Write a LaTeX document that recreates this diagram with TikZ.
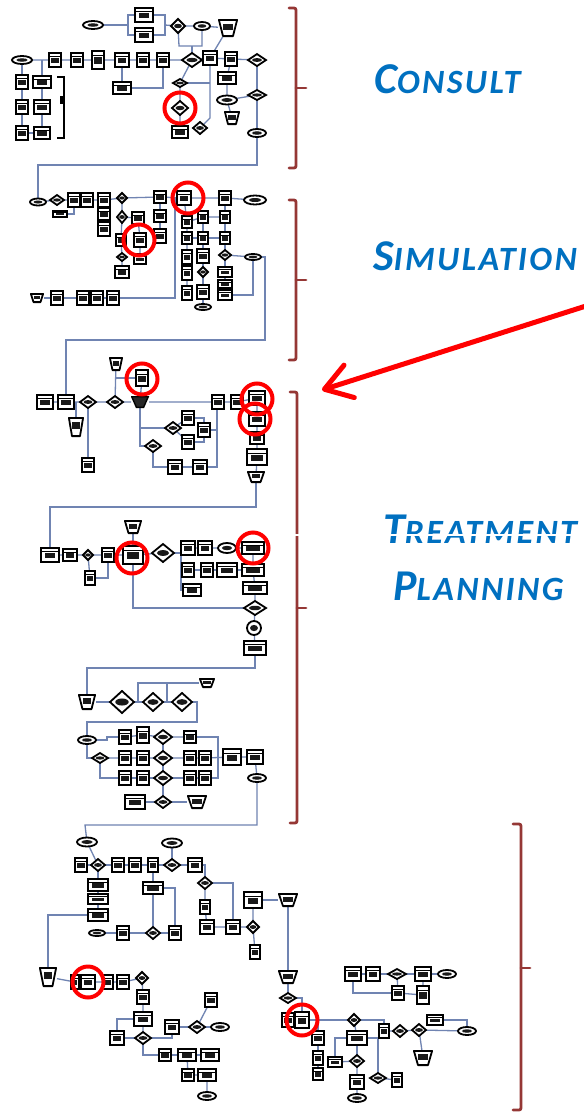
\documentclass[tikz,border=0pt]{standalone}
\usepackage{fontspec}
\setmainfont{Carlito}
\usetikzlibrary{shapes.geometric,arrows.meta,backgrounds}
\definecolor{lnc}{RGB}{112,132,178}
\definecolor{brk}{RGB}{149,55,53}
\definecolor{tblue}{RGB}{0,112,192}
\tikzset{
 ln/.style={draw=lnc, line width=1.3pt},
 bx/.style 2 args={rectangle, draw=black, line width=2.3pt, fill=white, inner sep=0pt, outer sep=0pt, minimum width=#1pt, minimum height=#2pt,
   path picture={\fill[black!90] ([xshift=-0.3*#1pt,yshift=-0.22*#2pt]path picture bounding box.center) rectangle ([xshift=0.3*#1pt,yshift=0.14*#2pt]path picture bounding box.center);
   \draw[black,line width=1pt] ([yshift=0.25*#2pt]path picture bounding box.west) -- ([yshift=0.25*#2pt]path picture bounding box.east);}},
 dm/.style 2 args={diamond, draw=black, line width=1.8pt, fill=white, inner sep=0pt, outer sep=0pt, minimum width=#1pt, minimum height=#2pt,
   path picture={\fill[black!90] (path picture bounding box.center) ellipse [x radius=0.28*#1pt, y radius=0.16*#2pt];}},
 ov/.style 2 args={ellipse, draw=black, line width=1.8pt, fill=white, inner sep=0pt, outer sep=0pt, minimum width=#1pt, minimum height=#2pt,
   path picture={\fill[black!90] (path picture bounding box.center) ellipse [x radius=0.28*#1pt, y radius=0.22*#2pt];}},
 tz/.style 2 args={rectangle, draw=none, inner sep=0pt, outer sep=0pt, minimum width=#1pt, minimum height=#2pt,
   path picture={\filldraw[fill=white, draw=black, line width=1.8pt, line join=round] ([xshift=0.9pt,yshift=-0.9pt]path picture bounding box.north west) -- ([xshift=-0.9pt,yshift=-0.9pt]path picture bounding box.north east) -- ([xshift=-0.25*#1pt,yshift=0.9pt]path picture bounding box.south east) -- ([xshift=0.25*#1pt,yshift=0.9pt]path picture bounding box.south west) -- cycle;
   \fill[black!90] ([xshift=-0.24*#1pt,yshift=-0.12*#2pt]path picture bounding box.center) rectangle ([xshift=0.24*#1pt,yshift=0.24*#2pt]path picture bounding box.center);}},
 tzd/.style 2 args={rectangle, draw=none, inner sep=0pt, outer sep=0pt, minimum width=#1pt, minimum height=#2pt,
   path picture={\filldraw[fill=black!85, draw=black, line width=1.4pt] ([xshift=0.7pt,yshift=-0.7pt]path picture bounding box.north west) -- ([xshift=-0.7pt,yshift=-0.7pt]path picture bounding box.north east) -- ([xshift=-0.3*#1pt,yshift=0.7pt]path picture bounding box.south east) -- ([xshift=0.3*#1pt,yshift=0.7pt]path picture bounding box.south west) -- cycle;}},
 rc/.style={circle, draw=red, line width=4pt, minimum size=31pt, inner sep=0pt},
 brkt/.style={draw=brk, line width=2.8pt, rounded corners=2pt, line cap=round},
 lab/.style={text=tblue, font=\bfseries\itshape\addfontfeature{LetterSpace=7}, inner sep=0pt, anchor=base west},
}
\begin{document}
\begin{tikzpicture}[x=1pt,y=-1pt]
\begin{scope}[on background layer]
\fill[white] (0,0) rectangle (584,1112);
\end{scope}
\useasboundingbox (0,0) rectangle (584,1112);

% ===== Section A (Consult) =====
\node[ov={20}{8}] (A1) at (93,25) {};
\node[bx={18}{14}] (A2) at (144,15) {};
\node[bx={18}{14}] (A3) at (144,35) {};
\node[dm={14}{14}] (A4) at (178,26) {};
\node[ov={16}{8}] (A5) at (202,26) {};
\node[tz={20}{18}] (A6) at (228,28) {};
\node[ov={20}{8}] (A7) at (22,60) {};
\node[bx={12}{14}] (A8) at (55,60) {};
\node[bx={12}{14}] (A9) at (77,60) {};
\node[bx={12}{18}] (A10) at (98,60) {};
\node[bx={14}{14}] (A11) at (122,60) {};
\node[bx={12}{14}] (A12) at (143,60) {};
\node[bx={12}{14}] (A13) at (163,60) {};
\node[dm={20}{14}] (A14) at (192,60) {};
\node[bx={14}{14}] (A15) at (210,58) {};
\node[bx={12}{14}] (A16) at (231,59) {};
\node[dm={18}{12}] (A17) at (257,60) {};
\node[bx={12}{14}] (A18) at (22,82) {};
\node[bx={12}{14}] (A19) at (22,107) {};
\node[bx={12}{14}] (A20) at (22,133) {};
\node[bx={18}{12}] (A21) at (42,82) {};
\node[bx={16}{14}] (A22) at (42,107) {};
\node[bx={16}{12}] (A23) at (42,133) {};
\node[bx={18}{12}] (A24) at (122,88) {};
\node[dm={14}{8}] (A25) at (180,83) {};
\node[dm={16}{14}] (A26) at (180,108) {};
\node[bx={16}{12}] (A27) at (180,132) {};
\node[dm={14}{12}] (A28) at (200,128) {};
\node[bx={18}{12}] (A29) at (227,78) {};
\node[ov={20}{9}] (A30) at (227,100) {};
\node[tz={16}{14}] (A31) at (232,118) {};
\node[dm={18}{10}] (A32) at (257,95) {};
\node[ov={18}{8}] (A33) at (257,133) {};
\coordinate (Aj1) at (128,25);
\coordinate (Aj2) at (165,25);
\coordinate (Aj3) at (179,46);
\coordinate (Aj4) at (202,46);
\coordinate (Aj5) at (210,118);
\coordinate (AB1) at (257,165);
\coordinate (AB2) at (38,165);

% ===== Section B (Simulation) =====
\node[ov={16}{7}] (B1) at (38,202) {};
\node[dm={14}{10}] (B2) at (57,200) {};
\node[bx={14}{6}] (B3) at (60,214) {};
\node[bx={12}{14}] (B4) at (74,200) {};
\node[bx={12}{14}] (B5) at (87,200) {};
\node[bx={12}{14}] (B6) at (104,200) {};
\node[bx={12}{12}] (B7) at (104,214) {};
\node[bx={12}{14}] (B8) at (104,229) {};
\node[dm={10}{10}] (B9) at (122,198) {};
\node[dm={10}{12}] (B10) at (122,217) {};
\node[bx={10}{12}] (B11) at (121,240) {};
\node[dm={10}{8}] (B12) at (122,257) {};
\node[bx={14}{12}] (B13) at (122,272) {};
\node[bx={12}{12}] (B14) at (138,218) {};
\node[bx={12}{14}] (B15) at (140,240) {};
\node[bx={12}{10}] (B16) at (140,259) {};
\node[bx={12}{12}] (B17) at (160,197) {};
\node[bx={12}{12}] (B18) at (160,216) {};
\node[bx={12}{14}] (B19) at (160,236) {};
\node[bx={14}{14}] (B20) at (184,198) {};
\node[bx={10}{12}] (B21) at (187,222) {};
\node[bx={10}{12}] (B22) at (187,238) {};
\node[bx={10}{14}] (B23) at (187,257) {};
\node[bx={10}{14}] (B24) at (187,273) {};
\node[bx={10}{14}] (B25) at (187,293) {};
\node[bx={10}{12}] (B26) at (203,217) {};
\node[bx={10}{12}] (B27) at (203,238) {};
\node[bx={12}{14}] (B28) at (203,256) {};
\node[dm={10}{10}] (B29) at (203,272) {};
\node[bx={12}{14}] (B30) at (203,292) {};
\node[ov={16}{6}] (B31) at (203,307) {};
\node[bx={12}{14}] (B32) at (225,198) {};
\node[bx={10}{12}] (B33) at (225,217) {};
\node[bx={10}{12}] (B34) at (225,238) {};
\node[dm={12}{10}] (B35) at (225,255) {};
\node[bx={14}{10}] (B36) at (225,272) {};
\node[bx={14}{8}] (B37) at (225,284) {};
\node[bx={14}{10}] (B38) at (225,295) {};
\node[ov={22}{9}] (B39) at (255,200) {};
\node[ov={16}{6}] (B40) at (253,257) {};
\node[tz={14}{10}] (B41) at (37,298) {};
\node[bx={12}{14}] (B42) at (57,298) {};
\node[bx={12}{14}] (B43) at (83,298) {};
\node[bx={12}{14}] (B44) at (97,298) {};
\node[bx={12}{14}] (B45) at (113,298) {};
\coordinate (Bj1) at (175,298);
\coordinate (BC1) at (265,257);
\coordinate (BC2) at (265,340);
\coordinate (BC3) at (66,340);

% ===== Section C =====
\node[bx={16}{14}] (C1) at (45,402) {};
\node[bx={16}{14}] (C2) at (66,402) {};
\node[dm={16}{12}] (C3) at (88,402) {};
\node[dm={16}{12}] (C4) at (115,402) {};
\node[tz={14}{14}] (C5) at (116,364) {};
\node[bx={12}{16}] (C6) at (142,378) {};
\node[tzd={18}{12}] (C7) at (140,402) {};
\node[tz={16}{20}] (C8) at (76,427) {};
\node[bx={12}{14}] (C9) at (88,465) {};
\node[bx={12}{14}] (C10) at (218,402) {};
\node[bx={12}{14}] (C11) at (237,402) {};
\node[bx={16}{14}] (C12) at (257,398) {};
\node[bx={16}{14}] (C13) at (257,419) {};
\node[bx={14}{12}] (C14) at (257,438) {};
\node[bx={20}{16}] (C15) at (257,457) {};
\node[tz={18}{12}] (C16) at (256,477) {};
\node[dm={16}{12}] (C17) at (153,446) {};
\node[dm={16}{12}] (C18) at (173,428) {};
\node[bx={12}{14}] (C19) at (188,418) {};
\node[bx={12}{14}] (C20) at (188,442) {};
\node[bx={12}{14}] (C21) at (204,430) {};
\node[bx={14}{14}] (C22) at (175,467) {};
\node[bx={14}{14}] (C23) at (200,467) {};
\coordinate (Cj2) at (217,467);
\coordinate (CD1) at (256,507);
\coordinate (CD2) at (50,507);

% ===== Section D =====
\node[bx={18}{14}] (D1) at (50,555) {};
\node[bx={14}{12}] (D2) at (70,555) {};
\node[dm={10}{10}] (D3) at (88,555) {};
\node[bx={12}{14}] (D4) at (108,555) {};
\node[bx={20}{18}] (D5) at (133,555) {};
\node[dm={22}{18}] (D6) at (163,553) {};
\node[tz={18}{14}] (D7) at (133,527) {};
\node[bx={10}{14}] (D8) at (90,578) {};
\node[bx={14}{14}] (D9) at (188,548) {};
\node[bx={14}{14}] (D10) at (205,548) {};
\node[ov={18}{10}] (D11) at (227,548) {};
\node[bx={22}{12}] (D12) at (253,548) {};
\node[bx={12}{14}] (D13) at (188,570) {};
\node[bx={12}{14}] (D14) at (207,570) {};
\node[bx={20}{14}] (D15) at (227,570) {};
\node[bx={22}{12}] (D16) at (253,570) {};
\node[bx={18}{12}] (D17) at (192,590) {};
\node[bx={24}{12}] (D18) at (255,588) {};
\node[dm={22}{14}] (D19) at (255,608) {};
\node[ov={14}{14}] (D20) at (254,628) {};
\node[bx={22}{14}] (D21) at (255,648) {};
\coordinate (Dj1) at (181,553);
\coordinate (DD1) at (255,668);
\coordinate (DD2) at (87,668);
\node[tz={18}{16}] (D22) at (87,702) {};
\node[dm={24}{22}] (D23) at (122,702) {};
\node[dm={20}{18}] (D24) at (153,702) {};
\node[dm={20}{18}] (D25) at (182,702) {};
\node[tz={16}{10}] (D26) at (207,683) {};
\coordinate (Dj2) at (138,683);
\coordinate (Dj3) at (167,683);
\coordinate (DD3) at (197,722);
\coordinate (DD4) at (87,722);
\node[ov={18}{8}] (D27) at (87,740) {};
\node[bx={12}{14}] (D28) at (125,737) {};
\node[bx={12}{16}] (D29) at (143,735) {};
\node[dm={18}{14}] (D30) at (163,737) {};
\node[bx={12}{12}] (D31) at (190,737) {};
\node[dm={16}{10}] (D32) at (100,758) {};
\node[bx={12}{14}] (D33) at (125,758) {};
\node[bx={12}{14}] (D34) at (143,758) {};
\node[dm={18}{14}] (D35) at (163,758) {};
\node[bx={12}{14}] (D36) at (190,758) {};
\node[bx={12}{14}] (D37) at (205,758) {};
\node[bx={18}{16}] (D38) at (232,757) {};
\node[bx={16}{14}] (D39) at (255,757) {};
\node[bx={12}{14}] (D40) at (125,778) {};
\node[bx={12}{14}] (D41) at (143,778) {};
\node[dm={18}{14}] (D42) at (163,778) {};
\node[bx={12}{14}] (D43) at (190,778) {};
\node[bx={12}{14}] (D44) at (205,778) {};
\node[ov={18}{8}] (D45) at (257,778) {};
\node[bx={20}{14}] (D46) at (135,802) {};
\node[dm={16}{12}] (D47) at (163,802) {};
\node[tz={20}{14}] (D48) at (197,802) {};
\coordinate (Dj4) at (107,740);
\coordinate (Dj5) at (218,737);
\coordinate (DE1) at (257,825);
\coordinate (DE2) at (85,825);

% ===== Section E =====
\node[ov={20}{9}] (E1) at (87,842) {};
\node[ov={20}{9}] (E2) at (172,843) {};
\node[bx={12}{14}] (E3) at (81,865) {};
\node[dm={14}{12}] (E4) at (98,865) {};
\node[bx={12}{14}] (E5) at (118,865) {};
\node[bx={12}{14}] (E6) at (135,865) {};
\node[bx={10}{14}] (E7) at (153,865) {};
\node[dm={16}{12}] (E8) at (172,865) {};
\node[bx={14}{14}] (E9) at (195,865) {};
\node[bx={20}{12}] (E10) at (98,885) {};
\node[bx={20}{10}] (E11) at (98,899) {};
\node[bx={20}{12}] (E12) at (98,915) {};
\node[bx={20}{12}] (E13) at (153,888) {};
\node[dm={14}{12}] (E14) at (153,933) {};
\node[bx={12}{14}] (E15) at (123,933) {};
\node[ov={16}{6}] (E16) at (97,933) {};
\node[bx={12}{14}] (E17) at (175,933) {};
\node[dm={14}{12}] (E18) at (205,883) {};
\node[bx={10}{14}] (E19) at (205,907) {};
\node[bx={14}{14}] (E20) at (207,927) {};
\node[bx={14}{14}] (E21) at (233,927) {};
\node[dm={12}{12}] (E22) at (253,927) {};
\node[bx={18}{16}] (E23) at (253,900) {};
\node[bx={10}{14}] (E24) at (255,952) {};
\node[tz={20}{14}] (E25) at (288,900) {};
\node[tz={18}{20}] (E26) at (48,977) {};
\node[bx={8}{14}] (E27) at (75,982) {};
\node[bx={14}{14}] (E28) at (88,982) {};
\node[bx={10}{14}] (E29) at (108,982) {};
\node[bx={12}{14}] (E30) at (123,982) {};
\node[dm={12}{12}] (E31) at (142,978) {};
\node[bx={12}{14}] (E32) at (143,997) {};
\node[bx={18}{14}] (E33) at (143,1019) {};
\node[bx={14}{14}] (E34) at (117,1038) {};
\node[dm={16}{12}] (E35) at (143,1038) {};
\node[bx={14}{14}] (E36) at (172,1027) {};
\node[dm={16}{12}] (E37) at (197,1027) {};
\node[ov={18}{8}] (E38) at (220,1027) {};
\node[bx={12}{14}] (E39) at (211,1000) {};
\node[bx={12}{12}] (E40) at (165,1055) {};
\node[bx={18}{12}] (E41) at (187,1055) {};
\node[bx={18}{12}] (E42) at (210,1055) {};
\node[bx={12}{12}] (E43) at (188,1075) {};
\node[bx={18}{12}] (E44) at (207,1075) {};
\node[ov={18}{8}] (E45) at (207,1096) {};

% ===== Section F =====
\node[tz={20}{14}] (F1) at (288,977) {};
\node[dm={16}{10}] (F2) at (288,998) {};
\node[bx={12}{14}] (F3) at (288,1020) {};
\node[bx={14}{16}] (F4) at (302,1020) {};
\node[bx={12}{14}] (F5) at (318,1038) {};
\node[bx={10}{14}] (F6) at (318,1058) {};
\node[bx={10}{12}] (F7) at (318,1074) {};
\node[bx={14}{10}] (F8) at (335,1062) {};
\node[dm={14}{12}] (F9) at (357,1061) {};
\node[bx={14}{14}] (F10) at (357,1082) {};
\node[ov={18}{8}] (F11) at (357,1098) {};
\node[bx={20}{14}] (F12) at (357,1038) {};
\node[dm={12}{12}] (F13) at (354,1020) {};
\node[bx={10}{14}] (F14) at (384,1031) {};
\node[dm={16}{10}] (F15) at (378,1078) {};
\node[bx={10}{14}] (F16) at (397,1080) {};
\node[bx={16}{14}] (F17) at (353,974) {};
\node[bx={14}{14}] (F18) at (373,974) {};
\node[dm={18}{10}] (F19) at (397,974) {};
\node[bx={16}{14}] (F20) at (423,974) {};
\node[ov={18}{8}] (F21) at (447,974) {};
\node[bx={12}{14}] (F22) at (398,993) {};
\node[bx={12}{18}] (F23) at (423,995) {};
\node[dm={14}{12}] (F24) at (400,1031) {};
\node[dm={14}{12}] (F25) at (419,1030) {};
\node[bx={16}{10}] (F26) at (435,1020) {};
\node[ov={18}{8}] (F27) at (467,1031) {};
\node[tz={20}{16}] (F28) at (423,1058) {};

% ===== connectors =====
\begin{scope}[on background layer]
\draw[ln] (A1) -- (Aj1);
\draw[ln] (A2) -| (Aj1) |- (A3);
\draw[ln] (A2) -| (Aj2) |- (A3);
\draw[ln] (Aj2) -- (A4) -- (A5) -- (A6);
\draw[ln] (A4) -- (Aj3) -- (Aj4) -- (A5);
\draw[ln] (A14 |- Aj3) -- (A14);
\draw[ln] (A6) -- (A15);
\draw[ln] (A7) -- (A8) -- (A9) -- (A10) -- (A11) -- (A12) -- (A13) -- (A14) -- (A15) -- (A16) -- (A17);
\draw[ln] (A7) -- (A18) -- (A19) -- (A20);
\draw[ln] (A21 |- A7) -- (A21) -- (A22) -- (A23);
\draw[ln] (A20) -- (A23);
\draw[ln] (A11) -- (A24);
\draw[ln] (A24) -| (A13);
\draw[ln] (A14) -- (A25) -- (A26) -- (A27);
\draw[ln] (A15) -- (Aj5) -- (A28);
\draw[ln] (A25) -- (A25 -| Aj5);
\draw[ln] (A16) -- (A29) -- (A30) -- (A31);
\draw[ln] (A30) -- (A32);
\draw[ln] (A17) -- (A32) -- (A33);
\draw[ln] (A33) -- (AB1) -- (AB2) -- (B1);

\draw[ln] (B1) -- (B2) -- (B4) -- (B5) -- (B6);
\draw[ln] (B3) -| (B4);
\draw[ln] (B6) -- (B7) -- (B8);
\draw[ln] (B6) -- (B9) -- (B17) -- (B20) -- (B32) -- (B39);
\draw[ln] (B9) -- (B10) -- (B11) -- (B12) -- (B13);
\draw[ln] (B10) -- (B14) -- (B15) -- (B16);
\draw[ln] (B17) -- (B18) -- (B19);
\draw[ln] (B20) -- (B21) -- (B22) -- (B23) -- (B24) -- (B25);
\draw[ln] (B26) -- (B27) -- (B28) -- (B29) -- (B30) -- (B31);
\draw[ln] (B32) -- (B33) -- (B34) -- (B35) -- (B36) -- (B37) -- (B38);
\draw[ln] (B22) -- (B27) -- (B34);
\draw[ln] (B21) -- (B26) -- (B33);
\draw[ln] (B35) -- (B40);
\draw[ln] (B38) -| (B40);
\draw[ln] (B41) -- (B42) -- (B43) -- (B44) -- (B45);
\draw[ln] (B45) -- (Bj1) -- (Bj1 |- B17);
\draw[ln] (B40) -- (BC1) -- (BC2) -- (BC3) -- (C2);

\draw[ln] (C1) -- (C2) -- (C3) -- (C4) -- (C7) -- (C10) -- (C11) -- (C12) -- (C13) -- (C14) -- (C15) -- (C16);
\draw[ln] (C5) -- (C4);
\draw[ln] (C6) -- (C6 -| C4);
\draw[ln] (C6) -- (C7);
\draw[ln] (C8) -- (C8 |- C2);
\draw[ln] (C3) -- (C9);
\draw[ln] (C7) |- (C17);
\draw[ln] (C18) -- (C18 -| C7);
\draw[ln] (C18) -- (C19);
\draw[ln] (C18) -- (C20);
\draw[ln] (C19) -| (C21);
\draw[ln] (C20) -| (C21);
\draw[ln] (C17) |- (C22);
\draw[ln] (C22) -- (C23) -- (Cj2) -- (Cj2 |- C10);
\draw[ln] (C21) -- (C21 -| Cj2);
\draw[ln] (C16) -- (CD1) -- (CD2) -- (D1);

\draw[ln] (D1) -- (D2) -- (D3) -- (D4) -- (D5) -- (D6);
\draw[ln] (D8) -| (D4);
\draw[ln] (D3) -- (D8);
\draw[ln] (D7) -- (D5);
\draw[ln] (D6) -- (Dj1);
\draw[ln] (D9) -| (Dj1) |- (D17);
\draw[ln] (D13) -- (D13 -| Dj1);
\draw[ln] (D9) -- (D10) -- (D11) -- (D12) -- (D16) -- (D18) -- (D19) -- (D20) -- (D21);
\draw[ln] (D13) -- (D14) -- (D15) -- (D16);
\draw[ln] (D5) |- (D19);
\draw[ln] (D21) -- (DD1) -- (DD2) -- (D22);
\draw[ln] (D22) -- (D23) -- (D24) -- (D25);
\draw[ln] (D26) -- (Dj2) -- (Dj2 |- D24);
\draw[ln] (Dj3) -- (Dj3 |- D24);
\draw[ln] (D25) -| (DD3) -- (DD4) -- (D27);
\draw[ln] (D27) |- (D32);
\draw[ln] (D32) -- (D33) -- (D34) -- (D35) -- (D36) -- (D37) -- (D38) -- (D39);
\draw[ln] (D32) |- (D40);
\draw[ln] (D40) -- (D41) -- (D42) -- (D43) -- (D44);
\draw[ln] (D28) -- (D29) -- (D30) -- (D31);
\draw[ln] (D27) -- (Dj4) |- (D28);
\draw[ln] (D31) -- (Dj5) |- (D44);
\draw[ln] (D39) -- (D45);
\draw[ln] (D30) -- (D35) -- (D42) -- (D47);
\draw[ln] (D46) -- (D47) -- (D48);
\draw[ln] (D45) -- (DE1) -- (DE2) -- (E1);

\draw[ln] (E1) -- (E4);
\draw[ln] (E3) -- (E4) -- (E5) -- (E6) -- (E7) -- (E8) -- (E9);
\draw[ln] (E2) -- (E8);
\draw[ln] (E4) -- (E10) -- (E11) -- (E12);
\draw[ln] (E7) -- (E13) -- (E14);
\draw[ln] (E16) -- (E15) -- (E14) -- (E17);
\draw[ln] (E13) -| (E17);
\draw[ln] (E9) -| (E18);
\draw[ln] (E18) -- (E19) -- (E20) -- (E21) -- (E22);
\draw[ln] (E18) -| (E21);
\draw[ln] (E23) -- (E22) -- (E24);
\draw[ln] (E23) -- (E25);
\draw[ln] (E12) -| (E26);
\draw[ln] (E26) -- (E27) -- (E28) -- (E29) -- (E30) -- (E31);
\draw[ln] (E31) -- (E32) -- (E33) -- (E35);
\draw[ln] (E34) |- (E33);
\draw[ln] (E34) -- (E35);
\draw[ln] (E35) |- (E40);
\draw[ln] (E35) -| (E36);
\draw[ln] (E36) -- (E37) -- (E38);
\draw[ln] (E39) -- (E37);
\draw[ln] (E40) -- (E41) -- (E42);
\draw[ln] (E41) -- (E43) -- (E44) -- (E45);

\draw[ln] (E25) -- (F1) -- (F2);
\draw[ln] (F2) -| (F4);
\draw[ln] (F3) -- (F4) -- (F13);
\draw[ln] (F13) -| (F14);
\draw[ln] (F4) -| (F5);
\draw[ln] (F5) -- (F6) -- (F7);
\draw[ln] (F8) -- (F9) -- (F10) -- (F11);
\draw[ln] (F12) -- (F9);
\draw[ln] (F13) -- (F12);
\draw[ln] (F8) |- (F12);
\draw[ln] (F14) -- (F24) -- (F25) -- (F27);
\draw[ln] (F26) -| (F27);
\draw[ln] (F17) -- (F18) -- (F19) -- (F20) -- (F21);
\draw[ln] (F19) -- (F22) -- (F23) -- (F20);
\draw[ln] (F17) |- (F22);
\draw[ln] (F25) -- (F28);
\draw[ln] (F15) -- (F16);
\draw[ln] (F12) -| (F15);
\end{scope}

% small bracket beside columns in consult
\draw[black, line width=1.4pt] (57,77) -- (64,77) -- (64,138) -- (57,138);
\fill[black] (60,96) rectangle (63,104);

% ===== red circles =====
\node[rc] (r1) at (180,108) {};
\node[rc] (r2) at (188,198) {};
\node[rc] (r3) at (139,240) {};
\node[rc] (r4) at (142,379) {};
\node[rc] (r5) at (257,399) {};
\node[rc] (r6) at (255,419) {};
\node[rc] (r7) at (132,558) {};
\node[rc] (r8) at (253,548) {};
\node[rc] (r9) at (88,982) {};
\node[rc] (r10) at (302,1020) {};

% ===== brackets =====
\draw[brkt] (289,8) -- (296,8) -- (296,168) -- (289,168);
\draw[brkt] (296,88) -- (306,88);
\draw[brkt] (289,200) -- (296,200) -- (296,360) -- (289,360);
\draw[brkt] (296,280) -- (306,280);
\draw[brkt] (290,392) -- (297,392) -- (297,823) -- (290,823);
\draw[brkt] (297,608) -- (306,608);
\draw[brkt] (513,824) -- (521,824) -- (521,1110) -- (513,1110);
\draw[brkt] (521,968) -- (530,968);

% ===== labels =====
\node[lab] (tC) at (374,93) {\fontsize{44}{44}\selectfont C\fontsize{34}{34}\selectfont ONSULT};
\node[lab] (tS) at (373,270) {\fontsize{44}{44}\selectfont S\fontsize{34}{34}\selectfont IMULATION};
\node[lab] (tT) at (383,543) {\fontsize{44}{44}\selectfont T\fontsize{34}{34}\selectfont REATMENT};
\node[lab] (tP) at (393,600) {\fontsize{44}{44}\selectfont P\fontsize{34}{34}\selectfont LANNING};
\draw[white, line width=1.3pt] (291,535) -- (584,535);

% ===== red arrow =====
\coordinate (arS) at (586,306);
\coordinate (arT) at (322,390);
\draw[red, line width=5pt, line cap=round, -{Straight Barb[length=26pt,width=34pt,round]}] (arS) -- (arT);
\end{tikzpicture}
\end{document}
